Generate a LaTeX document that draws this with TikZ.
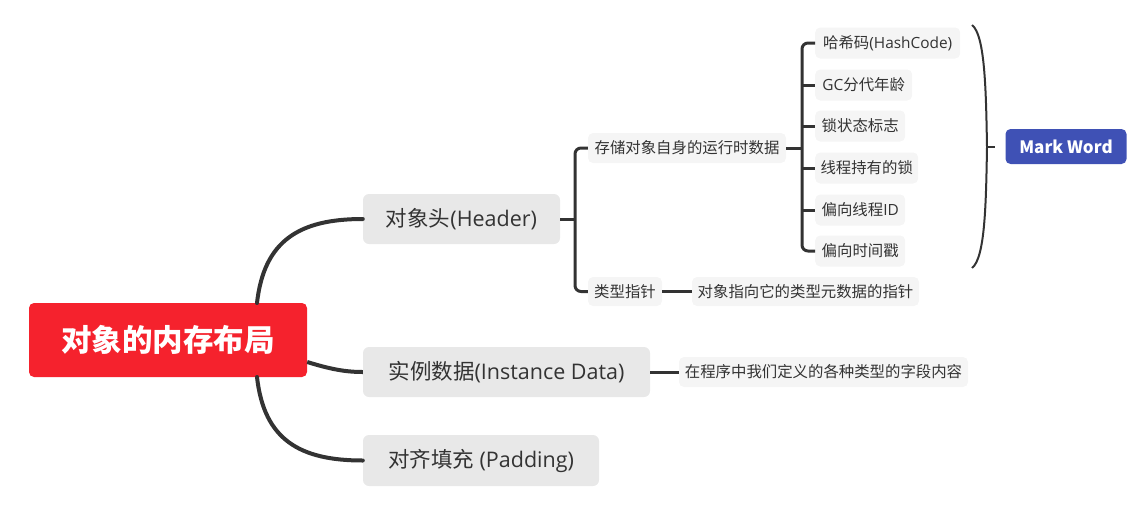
\documentclass[tikz,border=0pt]{standalone}
\usepackage{fontspec}
\newfontfamily\cjk{Noto Sans CJK SC}
\newfontfamily\lat{Open Sans}
\definecolor{rootred}{RGB}{245,34,45}
\definecolor{mwblue}{RGB}{63,81,181}
\definecolor{lone}{RGB}{232,232,232}
\definecolor{ltwo}{RGB}{245,245,245}
\definecolor{txt}{RGB}{51,51,51}
\definecolor{wire}{RGB}{51,51,51}
\tikzset{
  rootbox/.style={fill=rootred,rounded corners=5pt,minimum width=278pt,minimum height=74pt,inner sep=0pt,text=white,font=\cjk\bfseries\fontsize{30.5}{31}\selectfont},
  onebox/.style={fill=lone,rounded corners=6pt,minimum height=50pt,inner sep=0pt,text=txt,font=\cjk\fontsize{21.5}{23}\selectfont},
  twobox/.style={fill=ltwo,rounded corners=5pt,minimum height=30pt,inner sep=0pt,text=txt,font=\cjk\fontsize{15.4}{16}\selectfont},
  threebox/.style={twobox,anchor=west,minimum height=31pt},
  mwbox/.style={fill=mwblue,rounded corners=5pt,minimum width=121pt,minimum height=35pt,inner sep=0pt,text=white,font=\cjk\bfseries\fontsize{17}{18}\selectfont},
  thick1/.style={draw=wire,line width=4pt},
  thick2/.style={draw=wire,line width=3pt},
  bracestyle/.style={draw=wire,line width=2pt},
}
\begin{document}
\begin{tikzpicture}[x=1pt,y=-1pt]
\useasboundingbox (0,0) rectangle (1145,512);
% level 0
\node[rootbox] (root) at (168,340) {对象的内存布局};
% level 1
\node[onebox,minimum width=197pt] (hdr) at (461.5,219) {对象头{\lat(Header)}};
\node[onebox,minimum width=287pt] (inst) at (506.5,372) {实例数据{\lat(Instance Data)}};
\node[onebox,minimum width=236pt,minimum height=51pt] (pad) at (481,460.5) {对齐填充{\lat\ (Padding)}};
% level 2
\node[twobox,minimum width=198pt] (store) at (687,148) {存储对象自身的运行时数据};
\node[twobox,minimum width=74pt,minimum height=29pt] (ptr) at (625,291.5) {类型指针};
\node[twobox,minimum width=227pt,minimum height=29pt] (ptrd) at (805.5,291.5) {对象指向它的类型元数据的指针};
\node[twobox,minimum width=289pt] (inf) at (823.5,372) {在程序中我们定义的各种类型的字段内容};
% level 3
\node[threebox,minimum width=145pt] (hash) at (815,43) {哈希码{\lat(HashCode)}};
\node[threebox,minimum width=97pt] (gc) at (815,85) {{\lat GC}分代年龄};
\node[threebox,minimum width=90pt] (lock) at (815,126) {锁状态标志};
\node[threebox,minimum width=103pt] (hold) at (815,168) {线程持有的锁};
\node[threebox,minimum width=90pt] (bid) at (815,210) {偏向线程{\lat ID}};
\node[threebox,minimum width=90pt] (bts) at (815,251) {偏向时间戳};
% summary
\node[mwbox] (mw) at (1066,146.5) {Mark Word};
% root connectors
\coordinate (rtop) at (257,303);
\coordinate (rbot) at (257,377);
\draw[thick1,line cap=round] (rtop) .. controls (264,240) and (300,219) .. (hdr.west);
\draw[thick1] (root.east|-0,362) .. controls (330,369) and (345,372) .. (inst.west);
\draw[thick1,line cap=round] (rbot) .. controls (264,440) and (300,460.5) .. (pad.west);
% header children
\coordinate (hbar) at (575,219);
\draw[thick2] (hdr.east) -- (hbar);
\draw[thick2,rounded corners=6pt] (store.west) -- (hbar|-store.west) -- (hbar|-ptr.west) -- (ptr.west);
\draw[thick2] (ptr.east) -- (ptrd.west);
\draw[thick2] (inst.east) -- (inf.west);
% store children
\coordinate (sbar) at (802,148);
\draw[thick2] (store.east) -- (sbar);
\draw[thick2,rounded corners=6pt] (hash.west) -- (sbar|-hash.west) -- (sbar|-bts.west) -- (bts.west);
\foreach \n in {gc,lock,hold,bid} \draw[thick2] (sbar|-\n.west) -- (\n.west);
% brace
\coordinate (btop) at (972,25);
\coordinate (bmid) at (987,147);
\coordinate (bbot) at (972,268);
\coordinate (btick) at (995,147);
\draw[bracestyle] (btop) .. controls (985,35) and (986,90) .. (bmid) .. controls (986,205) and (985,258) .. (bbot);
\draw[bracestyle] (bmid) -- (btick);
\end{tikzpicture}
\end{document}
